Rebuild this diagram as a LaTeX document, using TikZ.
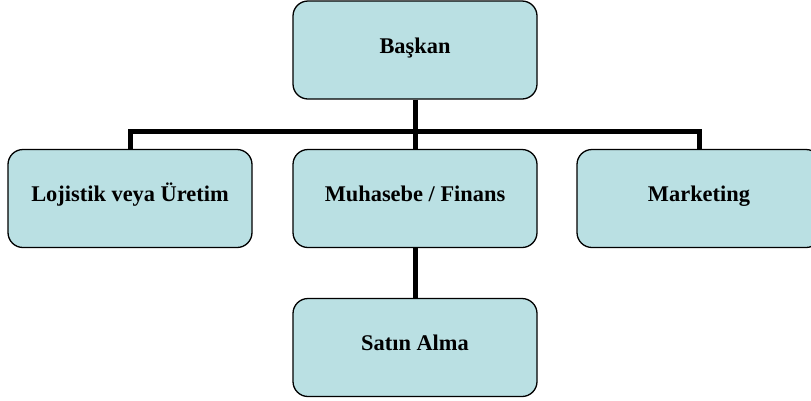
\documentclass[tikz,border=0pt]{standalone}
\usepackage{fontspec}
\setmainfont{Liberation Serif}
\definecolor{boxfill}{RGB}{186,224,227}
\begin{document}
\begin{tikzpicture}[x=1pt,y=-1pt,
  unit/.style={draw=black, line width=1.3pt, fill=boxfill, rounded corners=15pt,
    minimum width=244pt, minimum height=98pt, inner sep=0pt,
    text height=0.68em, text depth=0.08em,
    font=\fontsize{22.4}{26}\selectfont\bfseries},
  link/.style={draw=black, line width=5pt}]
\clip (0,0) rectangle (811,400);
\node[unit] (pres) at (415,50) {Başkan};
\node[unit] (log)  at (130,198.5) {Lojistik veya Üretim};
\node[unit] (fin)  at (415,198.5) {Muhasebe / Finans};
\node[unit] (mkt)  at (699,198.5) {Marketing};
\node[unit] (buy)  at (415,347.5) {Satın Alma};
\coordinate (bar) at (415,131.5);
% tree connectors
\draw[link] (pres.south) -- (fin.north);
\draw[link] (log.north) |- (bar) -| (mkt.north);
\draw[link] (fin.south) -- (buy.north);
\end{tikzpicture}
\end{document}
